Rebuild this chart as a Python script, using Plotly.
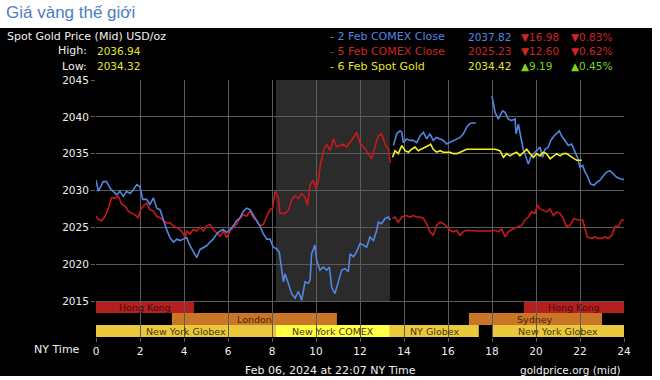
import plotly.graph_objects as go

# ---------------- data ----------------
blue_t = [0.0, 0.11, 0.33, 0.48, 0.64, 0.79, 0.94, 1.09, 1.24, 1.39, 1.55, 1.70, 1.85, 2.0, 2.12, 2.30,
          2.45, 2.61, 2.76, 2.91, 3.06, 3.21, 3.36, 3.52, 3.67, 3.82, 3.97, 4.12, 4.27, 4.42, 4.58, 4.73,
          4.88, 5.03, 5.18, 5.33, 5.48, 5.64, 5.79, 5.94, 6.09, 6.24, 6.39, 6.55, 6.70, 6.85, 7.0, 7.15,
          7.30, 7.45, 7.61, 7.76, 7.91, 8.06, 8.21, 8.33,
          8.52, 8.59, 8.74, 8.89, 9.05, 9.20, 9.35, 9.50, 9.65, 9.73, 9.80, 9.95, 10.03, 10.18, 10.33,
          10.48, 10.61, 10.71, 10.86, 11.02, 11.17, 11.32, 11.47, 11.55, 11.70, 11.85, 12.0, 12.15,
          12.30, 12.45, 12.61, 12.76, 12.83, 12.98, 13.14, 13.29, 13.38,
          13.42,
          13.52, 13.67, 13.82, 13.90, 13.97, 14.12, 14.27, 14.42, 14.58, 14.73, 14.88, 15.03, 15.18,
          15.33, 15.48, 15.64, 15.79, 15.94, 16.09, 16.24, 16.39, 16.55, 16.70, 16.85, 17.0, 17.26,
          17.6,
          18.0, 18.14, 18.29, 18.48, 18.59, 18.74, 18.89, 19.05, 19.09, 19.20, 19.30, 19.42, 19.55,
          19.65, 19.76, 19.88, 20.03, 20.18, 20.30, 20.41, 20.56, 20.67, 20.82, 20.97, 21.06, 21.17,
          21.32, 21.47, 21.62, 21.77, 21.88, 22.0, 22.12, 22.23, 22.33, 22.48, 22.64, 22.76, 22.91,
          23.06, 23.21, 23.36, 23.52, 23.67, 23.82, 24.0]
blue_p = [2031.4, 2029.9, 2031.2, 2031.2, 2030.3, 2029.9, 2029.4, 2029.9, 2029.2, 2029.9, 2029.6, 2030.1,
          2030.8, 2030.5, 2028.8, 2028.8, 2028.1, 2029.0, 2027.6, 2027.4, 2025.9, 2024.7, 2023.6, 2023.0,
          2023.4, 2023.2, 2023.4, 2023.6, 2022.5, 2021.8, 2020.9, 2022.0, 2022.3, 2022.5, 2023.0, 2023.4,
          2024.1, 2024.5, 2024.7, 2024.3, 2024.7, 2025.2, 2025.9, 2026.3, 2027.2, 2027.6, 2027.4, 2026.7,
          2025.9, 2025.2, 2024.1, 2023.4, 2023.4, 2022.3, 2022.1, 2021.6,
          2017.6, 2018.7, 2017.4, 2016.0, 2015.4, 2016.3, 2015.1, 2017.6, 2017.4, 2017.8, 2021.4, 2022.6,
          2020.5, 2019.2, 2019.6, 2019.2, 2019.6, 2016.9, 2016.0, 2017.8, 2019.2, 2019.4, 2019.0, 2021.4,
          2021.0, 2021.7, 2022.8, 2022.6, 2022.3, 2023.7, 2023.2, 2024.6, 2025.7, 2025.5, 2026.2, 2026.4,
          2026.0,
          None,
          2036.1, 2037.7, 2038.1, 2037.9, 2036.5, 2037.0, 2036.8, 2036.8, 2036.5, 2037.4, 2037.9, 2037.0,
          2037.7, 2036.8, 2037.2, 2037.0, 2036.8, 2036.3, 2036.5, 2036.8, 2037.0, 2037.2, 2037.7, 2038.6,
          2039.1, 2039.2,
          None,
          2042.8, 2040.6, 2039.7, 2040.8, 2040.6, 2039.7, 2039.5, 2039.7, 2037.7, 2039.0, 2037.4, 2035.6,
          2034.5, 2033.6, 2034.5, 2035.0, 2035.4, 2035.9, 2034.5, 2035.6, 2035.9, 2036.8, 2037.4, 2037.9,
          2038.1, 2037.4, 2036.8, 2036.1, 2036.3, 2035.2, 2034.5, 2033.2, 2033.4, 2032.5, 2032.0, 2030.9,
          2030.7, 2031.1, 2031.4, 2032.0, 2032.5, 2032.7, 2032.3, 2031.8, 2031.6, 2031.5]

red_t = [0.0, 0.11, 0.26, 0.41, 0.56, 0.71, 0.86, 1.02, 1.17, 1.32, 1.47, 1.62, 1.77, 1.92, 2.03, 2.15,
         2.30, 2.45, 2.61, 2.76, 2.91, 3.06, 3.21, 3.36, 3.52, 3.67, 3.82, 3.97, 4.05, 4.12, 4.27, 4.42,
         4.58, 4.73, 4.88, 5.03, 5.18, 5.33, 5.48, 5.64, 5.79, 5.94, 6.09, 6.24, 6.39, 6.55, 6.70, 6.85,
         7.0, 7.15, 7.30, 7.45, 7.61, 7.76, 7.91, 8.03, 8.14, 8.29,
         8.36, 8.59, 8.74, 8.89, 9.05, 9.20, 9.35, 9.50, 9.61, 9.73, 9.88, 10.0, 10.11, 10.18, 10.26,
         10.36, 10.48, 10.64, 10.79, 10.94, 11.09, 11.24, 11.39, 11.55, 11.70, 11.85, 12.0, 12.15,
         12.30, 12.45, 12.53, 12.68, 12.83, 12.98, 13.14, 13.29, 13.38,
         13.42,
         13.48, 13.59, 13.74, 13.90, 14.12, 14.27, 14.42, 14.58, 14.73, 14.88, 15.03, 15.18, 15.33,
         15.48, 15.64, 15.79, 15.94, 16.09, 16.24, 16.39, 16.55, 16.70, 16.85, 17.30, 17.91, 18.14,
         18.29, 18.44, 18.59, 18.74, 18.97, 19.20, 19.35, 19.50, 19.65, 19.80, 19.95, 20.06, 20.18,
         20.33, 20.48, 20.64, 20.79, 20.94, 21.09, 21.24, 21.39, 21.55, 21.73, 21.92, 22.12, 22.23,
         22.33, 22.53, 22.68, 22.83, 22.98, 23.14, 23.29, 23.44, 23.59, 23.74, 23.89, 24.0]
red_p = [2026.5, 2026.1, 2025.9, 2026.5, 2027.6, 2029.0, 2029.0, 2029.2, 2028.1, 2027.9, 2027.2, 2027.0,
         2026.7, 2026.3, 2027.4, 2027.9, 2028.3, 2027.4, 2027.2, 2026.5, 2026.3, 2025.9, 2025.6, 2025.6,
         2025.2, 2025.0, 2024.7, 2024.1, 2023.6, 2024.5, 2024.1, 2024.7, 2024.5, 2025.0, 2024.5, 2025.2,
         2025.4, 2024.7, 2024.3, 2023.8, 2024.5, 2023.6, 2024.5, 2025.0, 2025.4, 2026.3, 2026.7, 2026.5,
         2027.2, 2026.3, 2025.9, 2025.2, 2025.4, 2026.5, 2027.4, 2027.6, 2029.9, 2029.0,
         2026.9, 2026.9, 2027.3, 2028.7, 2029.3, 2028.9, 2029.6, 2029.1, 2028.0, 2030.7, 2031.4, 2030.2,
         2031.4, 2033.2, 2034.1, 2035.6, 2036.3, 2035.4, 2037.0, 2035.9, 2036.1, 2036.3, 2035.9, 2036.5,
         2037.2, 2037.9, 2036.5, 2035.9, 2035.4, 2034.7, 2034.3, 2035.9, 2037.4, 2037.7, 2036.3, 2035.6,
         2033.8,
         None,
         2026.2, 2026.4, 2025.7, 2026.4, 2026.6, 2026.4, 2026.6, 2026.4, 2026.4, 2026.2, 2025.5, 2024.4,
         2023.9, 2025.3, 2025.7, 2025.5, 2025.1, 2024.6, 2024.4, 2024.6, 2023.9, 2024.4, 2024.6, 2024.5,
         2024.5, 2024.6, 2024.4, 2024.8, 2023.7, 2024.4, 2024.8, 2025.1, 2025.3, 2026.0, 2026.4, 2027.1,
         2026.9, 2028.0, 2027.5, 2027.3, 2027.1, 2027.5, 2026.6, 2027.1, 2026.9, 2026.2, 2025.1, 2025.3,
         2026.2, 2026.0, 2026.0, 2024.8, 2023.7, 2023.5, 2023.7, 2023.5, 2023.5, 2023.7, 2023.5, 2023.9,
         2025.1, 2025.1, 2026.0, 2026.0]

yellow_t = [13.48, 13.59, 13.74, 13.90, 14.05, 14.20, 14.35, 14.50, 14.65, 14.80, 14.95, 15.11, 15.21,
            15.33, 15.48, 15.64, 15.79, 15.94, 16.09, 16.24, 16.39, 16.55, 16.70, 16.85, 17.15, 17.45,
            17.76, 18.14, 18.36, 18.52, 18.67, 18.82, 18.97, 19.12, 19.27, 19.42, 19.58, 19.73, 19.88,
            20.03, 20.18, 20.33, 20.48, 20.64, 20.79, 20.94, 21.09, 21.24, 21.39, 21.55, 21.70, 21.85,
            22.08]
yellow_p = [2034.5, 2035.4, 2035.0, 2036.1, 2035.4, 2035.2, 2035.6, 2035.9, 2035.4, 2035.6, 2035.9,
            2036.1, 2036.3, 2035.6, 2035.2, 2035.4, 2035.2, 2035.2, 2035.2, 2035.0, 2035.0, 2035.2,
            2035.4, 2035.6, 2035.6, 2035.6, 2035.6, 2035.6, 2035.4, 2034.5, 2035.0, 2034.7, 2035.0,
            2035.2, 2034.7, 2035.2, 2035.6, 2035.0, 2034.5, 2035.0, 2034.7, 2035.2, 2035.0, 2034.3,
            2034.7, 2035.0, 2034.7, 2035.0, 2035.0, 2034.7, 2034.3, 2034.1, 2034.1]

# trading sessions: (row, start hour, end hour, label)
session_rows = [0, 0, 1, 1, 2, 2, 2, 2]
session_start = [0.0, 19.45, 3.45, 16.95, 0.0, 8.18, 13.36, 18.0]
session_end = [4.45, 24.0, 10.95, 23.0, 8.18, 13.36, 17.4, 24.0]
session_labels = ["Hong Kong", "Hong Kong", "London", "Sydney", "New York Globex",
                  "New York COMEX", "NY Globex", "New York Globex"]
comex_window = [8.18, 13.36]

x_ticks = [0, 2, 4, 6, 8, 10, 12, 14, 16, 18, 20, 22, 24]
y_ticks = [2015, 2020, 2025, 2030, 2035, 2040, 2045]

legend_names = ["2 Feb COMEX Close", "5 Feb COMEX Close", "6 Feb Spot Gold"]
legend_values = ["2037.82", "2025.23", "2034.42"]
legend_changes = ["▼16.98", "▼12.60", "▲9.19"]
legend_pcts = ["▼0.83%", "▼0.62%", "▲0.45%"]
high_low = [("High:", "2036.94"), ("Low:", "2034.32")]

# ---------------- styling / layout ----------------
W, H = 660, 380
PL, PR, PT, PB = 96, 624, 80, 337          # plot area in pixels
PX_PER_UNIT = (301 - 80) / 30.0
Y_TOP = 2045.0
Y_BOT = Y_TOP - (PB - PT) / PX_PER_UNIT
ROW_H = 12 / PX_PER_UNIT

FONT = "DejaVu Sans"
BLUE, RED, YEL, GRN = "#5485e2", "#c8181c", "#f2f21e", "#7fd321"
TXT_RED = "#d02424"
GRID = "#5c5c5c"
WHITE = "#f0f0f0"


def px(xp):
    return (xp - PL) / (PR - PL)


def py(yp):
    return (PB - yp) / (PB - PT)


fig = go.Figure()
fig.add_trace(go.Scatter(x=red_t, y=red_p, mode="lines", line=dict(color=RED, width=1.6),
                         connectgaps=False, hoverinfo="skip"))
fig.add_trace(go.Scatter(x=blue_t, y=blue_p, mode="lines", line=dict(color=BLUE, width=1.6),
                         connectgaps=False, hoverinfo="skip"))
fig.add_trace(go.Scatter(x=yellow_t, y=yellow_p, mode="lines", line=dict(color=YEL, width=1.6),
                         hoverinfo="skip"))

shapes = []
# black panel
shapes.append(dict(type="rect", xref="paper", yref="paper", x0=px(0), x1=px(652), y0=py(376), y1=py(28),
                   fillcolor="black", line=dict(width=0), layer="below"))
# COMEX shaded window
shapes.append(dict(type="rect", xref="x", yref="y", x0=comex_window[0], x1=comex_window[1],
                   y0=2015, y1=Y_TOP, fillcolor="#2b2b2b", line=dict(width=0), layer="below"))

fill_colors = {"Hong Kong": "#b41f1f", "London": "#ca7626", "Sydney": "#ca7626",
               "New York Globex": "#e9c93b", "NY Globex": "#e9c93b", "New York COMEX": "#ffff44"}
text_colors = {"Hong Kong": "#4a0c0c", "London": "#45250a", "Sydney": "#45250a",
               "New York Globex": "#4a3a0c", "NY Globex": "#4a3a0c", "New York COMEX": "#4a3a0c"}
annotations = []
for r, s, e, lab in zip(session_rows, session_start, session_end, session_labels):
    y1 = 2015 - r * ROW_H
    y0 = y1 - ROW_H
    shapes.append(dict(type="rect", xref="x", yref="y", x0=s, x1=e, y0=y0, y1=y1,
                       fillcolor=fill_colors[lab], line=dict(width=0), layer="below"))
    annotations.append(dict(x=(s + e) / 2, y=(y0 + y1) / 2, xref="x", yref="y", text=lab,
                            showarrow=False, font=dict(family=FONT, size=9.5, color=text_colors[lab]),
                            xanchor="center", yanchor="middle"))


def txt(x, y, s, color, anchor="left", size=11, family=FONT):
    annotations.append(dict(x=px(x), y=py(y), xref="paper", yref="paper", text=s, showarrow=False,
                            xanchor=anchor, yanchor="middle", font=dict(family=family, size=size, color=color)))


txt(4, 12, "Giá vàng thế giới", "#4c7cc6", size=17, family="Liberation Sans")
txt(5, 37, "Spot Gold Price (Mid) USD/oz", WHITE)
for i, (lab, val) in enumerate(high_low):
    txt(89, 51 + i * 15, lab, WHITE, anchor="right")
    txt(95, 51 + i * 15, val, "#e6e62a", size=10.5)

name_cols = [BLUE, TXT_RED, "#e6e62a"]
chg_cols = [TXT_RED, TXT_RED, GRN]
for i in range(3):
    yy = 37 + i * 14.5
    txt(328, yy, "- " + legend_names[i], name_cols[i])
    txt(513, yy, legend_values[i], name_cols[i], anchor="right", size=10.5)
    txt(519, yy, legend_changes[i], chg_cols[i], size=10.5)
    txt(569, yy, legend_pcts[i], chg_cols[i], size=10.5)

txt(82, 349, "NY Time", WHITE, anchor="right")
txt(243, 370, "Feb 06, 2024 at 22:07 NY Time", WHITE)
txt(623, 370, "goldprice.org (mid)", WHITE, anchor="right", size=10.5)

fig.update_layout(
    width=W, height=H,
    margin=dict(l=PL, r=W - PR, t=PT, b=H - PB, pad=0, autoexpand=False),
    paper_bgcolor="white", plot_bgcolor="black",
    showlegend=False,
    shapes=shapes, annotations=annotations,
    xaxis=dict(range=[0, 24], tickvals=x_ticks, showgrid=True, gridcolor=GRID, gridwidth=1,
               zeroline=False, showline=False, ticks="outside", ticklen=4, tickcolor=GRID,
               tickfont=dict(family=FONT, size=10.5, color=WHITE), fixedrange=True),
    yaxis=dict(range=[Y_BOT, Y_TOP], tickvals=y_ticks, showgrid=True, gridcolor=GRID, gridwidth=1,
               zeroline=False, showline=False, ticks="outside", ticklen=4, tickcolor=GRID,
               tickfont=dict(family=FONT, size=10.5, color=WHITE), fixedrange=True),
)

fig.write_html("out.html", config={"displayModeBar": False},
               post_script="document.body.style.margin='0px';document.body.style.overflow='hidden';")
